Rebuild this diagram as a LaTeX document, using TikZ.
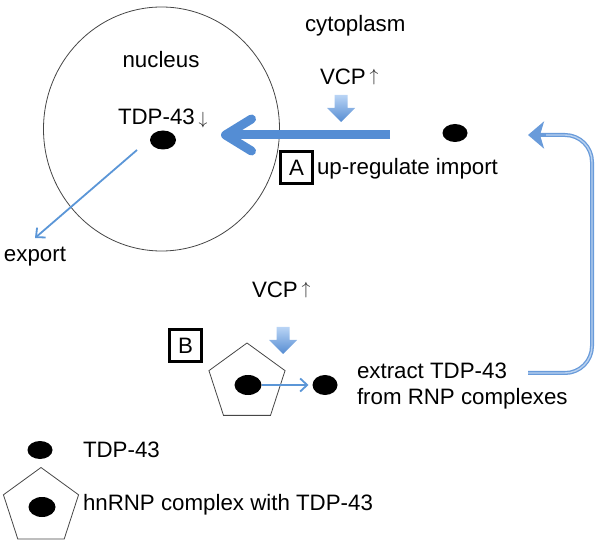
\documentclass[tikz,border=0pt]{standalone}
\usepackage{fontspec}
\setmainfont{Liberation Sans}
\usetikzlibrary{arrows.meta,shapes.geometric}
\definecolor{bigblue}{RGB}{84,141,212}
\definecolor{thinblue}{RGB}{91,150,215}
\definecolor{loopblue}{RGB}{105,155,218}
\definecolor{loopinner}{RGB}{185,210,240}
\definecolor{shadetop}{RGB}{185,212,245}
\definecolor{shadebot}{RGB}{85,140,210}
\definecolor{ringgray}{RGB}{70,70,70}
\definecolor{arrowgray}{RGB}{30,30,30}
\newcommand{\vcpdown}[2]{%
  \shade[top color=shadetop, bottom color=shadebot]
    (#1-6.5,#2) -- (#1+6.5,#2) -- (#1+6.5,#2+13) -- (#1+14,#2+13) --
    (#1,#2+27) -- (#1-14,#2+13) -- (#1-6.5,#2+13) -- cycle;}
\newcommand{\upsym}{\,\raisebox{0.15em}{\color{arrowgray}\scalebox{0.85}{$\uparrow$}}}
\newcommand{\downsym}{\,\raisebox{0.02em}{\color{arrowgray}\scalebox{0.85}{$\downarrow$}}}
\begin{document}
\begin{tikzpicture}[x=1pt,y=-1pt,
  every node/.style={font=\fontsize{22.3}{25}\selectfont, inner sep=0pt, outer sep=0pt},
  lbl/.style={anchor=base west},
  dot/.style={ellipse, fill=black, minimum width=26pt, minimum height=19pt},
  pent/.style={regular polygon, regular polygon sides=5, minimum size=80pt, draw=ringgray, line width=0.8pt},
  tag/.style={draw=black, line width=3pt, minimum width=32pt, minimum height=32pt, inner sep=0pt},
  thinarrow/.style={draw=thinblue, line width=1.8pt, -{Straight Barb[length=7pt,width=13pt]}},
  bigarrow/.style={draw=bigblue, line width=9pt, -{Straight Barb[round,length=26pt,width=32pt]}},
  loopline/.style={draw=loopblue, line width=4pt, rounded corners=27pt},
  loopcore/.style={draw=loopinner, line width=1.4pt, rounded corners=27pt}
]
\useasboundingbox (0,0) rectangle (600,545);

% nucleus
\node[ellipse, draw=ringgray, line width=0.8pt, minimum width=236pt, minimum height=244pt] (nucleus) at (161.5,129) {};
\node[anchor=base] (nucleuslbl) at (161,68) {nucleus};
\node[lbl] (tdpnuc) at (118,125) {TDP-43\downsym};
\node[dot] (nucdot) at (163,140) {};
\coordinate (expstart) at (137,150);
\coordinate (expend) at (35,238);
\draw[thinarrow] (expstart) -- (expend);
\node[lbl] (exportlbl) at (4,262) {export};

% cytoplasm
\node[lbl] (cytolbl) at (305,32) {cytoplasm};
\node[lbl] (vcpA) at (320,85) {VCP\upsym};
\vcpdown{341}{95}
\node[dot, minimum width=25pt, minimum height=18pt] (cytdot) at (455,133) {};
\coordinate (bigstart) at (390,135);
\coordinate (bigtip) at (221,135);
\draw[bigarrow] (bigstart) -- (bigtip);
\node[tag] (tagA) at (296.5,167.5) {A};
\node[lbl] (importlbl) at (317,175) {up-regulate import};

% B
\node[tag] (tagB) at (185.5,346) {B};
\node[lbl] (vcpB) at (252,298) {VCP\upsym};
\vcpdown{283}{327}
\node[pent] (pentB) at (247,383) {};
\node[dot, minimum width=27pt, minimum height=20pt] (pentdot) at (248,385) {};
\node[dot, minimum width=25pt, minimum height=20pt] (freedot) at (325,385) {};
\draw[thinarrow] (pentdot.east) -- ([xshift=-4pt]freedot.west);
\node[lbl] (extract1) at (357,379) {extract TDP-43};
\node[lbl] (extract2) at (357,404) {from RNP complexes};

% return loop
\coordinate (loopstart) at (528,373);
\coordinate (loopbr) at (592,373);
\coordinate (looptr) at (592,135);
\coordinate (loopend) at (528,135);
\coordinate (loopcoreend) at (546,135);
\draw[loopline, -{Stealth[length=16pt,width=27pt,inset=4pt]}] (loopstart) -- (loopbr) -- (looptr) -- (loopend);
\draw[loopcore] (loopstart) -- (loopbr) -- (looptr) -- (loopcoreend);

% legend
\node[dot, minimum width=25pt, minimum height=18pt] (legdot) at (40,450) {};
\node[lbl] (legtdp) at (83,457) {TDP-43};
\node[pent, minimum size=79pt] (legpent) at (41,507) {};
\node[dot, minimum width=27pt, minimum height=20pt] (legpentdot) at (42,507) {};
\node[lbl] (leghnrnp) at (83,510) {hnRNP complex with TDP-43};
\end{tikzpicture}
\end{document}
